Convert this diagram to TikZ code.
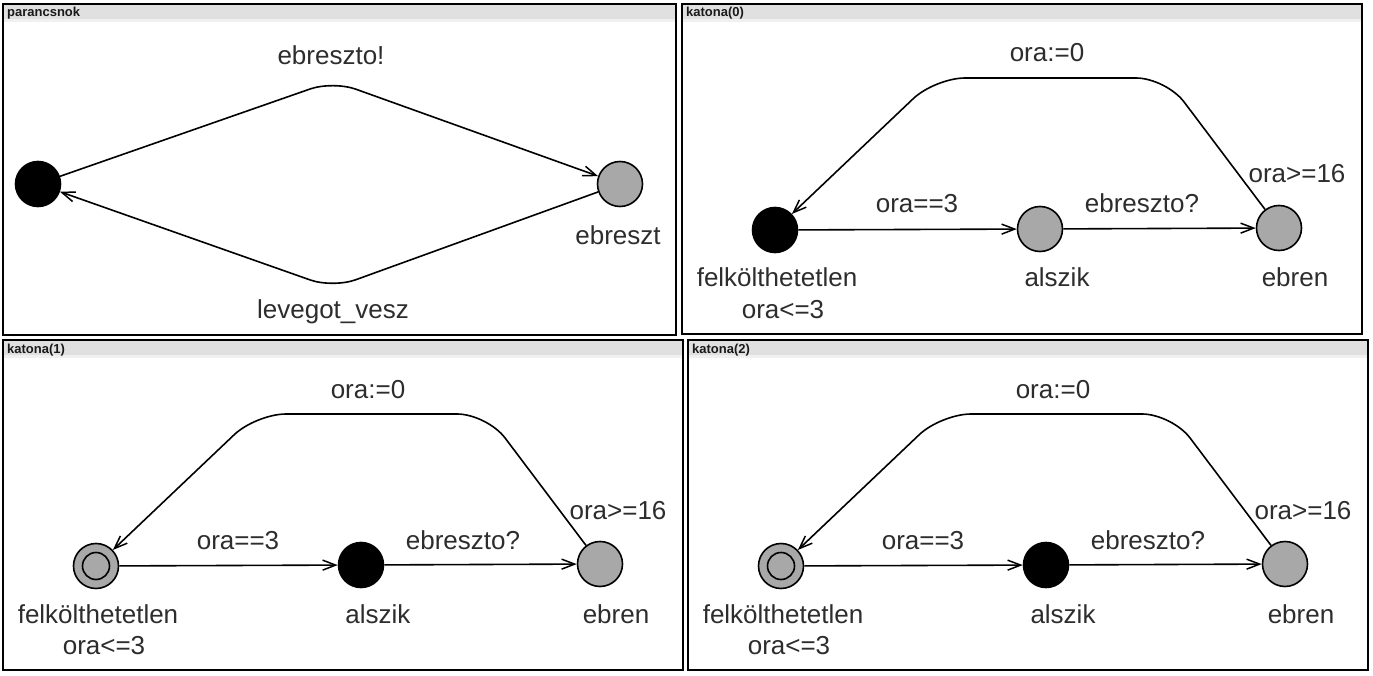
\documentclass[tikz,border=0pt]{standalone}
\usepackage{fontspec}
\setmainfont{Liberation Sans}
\usetikzlibrary{arrows.meta}
\definecolor{stategray}{RGB}{168,168,168}
\definecolor{txt}{RGB}{45,45,45}
\definecolor{barA}{RGB}{224,224,224}
\definecolor{barB}{RGB}{240,240,240}
\tikzset{
  frame/.style={draw=black, line width=1.5pt},
  titlebar/.style={fill=barA},
  titletext/.style={anchor=base west, inner sep=0pt, font=\fontsize{13}{15}\selectfont\bfseries, text=black!90},
  state/.style={circle, draw=black, line width=1.6pt, minimum size=45pt, inner sep=0pt},
  lbl/.style={anchor=base, inner sep=0pt, font=\fontsize{26}{30}\selectfont, text=txt},
  edge/.style={draw=black, line width=1.6pt, -{Straight Barb[length=13pt,width=10pt,line width=1.5pt]}},
}
\newcommand\katonapanel[6]{%
\begin{scope}[shift={(#1,#2)}, name prefix=#4-]
  \fill[titlebar] (683,5) rectangle (1361,22);
  \fill[barB] (683,19) rectangle (1361,22);
  \draw[frame] (682,4) rectangle (1362,334);
  \node[titletext] (title) at (686,17) {#3};
  \node[state, fill=#5] (felk) at (775,230) {};
  \node[state, fill=#6] (al) at (1040,229) {};
  \node[state, fill=stategray] (eb) at (1279,228) {};
  \coordinate (c1) at (1166,78);
  \coordinate (c2) at (935,78);
  \draw[edge] (felk) -- (al);
  \draw[edge] (al) -- (eb);
  \draw[edge, rounded corners=30pt] (eb) -- (c1) -- (c2) -- (felk);
  \node[lbl] (lfelk) at (777,287) {felkölthetetlen};
  \node[lbl] (inv) at (783,318) {ora<=3};
  \node[lbl] (lal) at (1057,287) {alszik};
  \node[lbl] (leb) at (1295,287) {ebren};
  \node[lbl] (g1) at (917,213) {ora==3};
  \node[lbl] (s1) at (1142,213) {ebreszto?};
  \node[lbl] (g2) at (1297,183) {ora>=16};
  \node[lbl] (a2) at (1047,62) {ora:=0};
\end{scope}}
\begin{document}
\begin{tikzpicture}[x=1pt, y=-1pt]
  \useasboundingbox[fill=white] (0,0) rectangle (1373,676);
  % parancsnok
  \fill[titlebar] (4,5) rectangle (675,22);
  \fill[barB] (4,19) rectangle (675,22);
  \draw[frame] (3,4) rectangle (676,335);
  \node[titletext] (ptitle) at (7,17) {parancsnok};
  \node[state, fill=black] (p0) at (38,184) {};
  \node[state, fill=stategray] (p1) at (620,184) {};
  \coordinate (ptop) at (333,81);
  \coordinate (pbot) at (333,288);
  \draw[edge, rounded corners=24pt] (p0) -- (ptop) -- (p1);
  \draw[edge, rounded corners=24pt] (p1) -- (pbot) -- (p0);
  \node[lbl] (pl1) at (331,65) {ebreszto!};
  \node[lbl] (pl2) at (618,245) {ebreszt};
  \node[lbl] (pl3) at (333,318) {levegot\_vesz};
  % katona panels
  \katonapanel{0}{0}{katona(0)}{k0}{black}{stategray}
  \katonapanel{-679}{336}{katona(1)}{k1}{stategray}{black}
  \katonapanel{6}{336}{katona(2)}{k2}{stategray}{black}
  \draw[line width=1.6pt, fill=stategray] (k1-felk) circle[radius=13.5pt];
  \draw[line width=1.6pt, fill=stategray] (k2-felk) circle[radius=13.5pt];
\end{tikzpicture}
\end{document}
